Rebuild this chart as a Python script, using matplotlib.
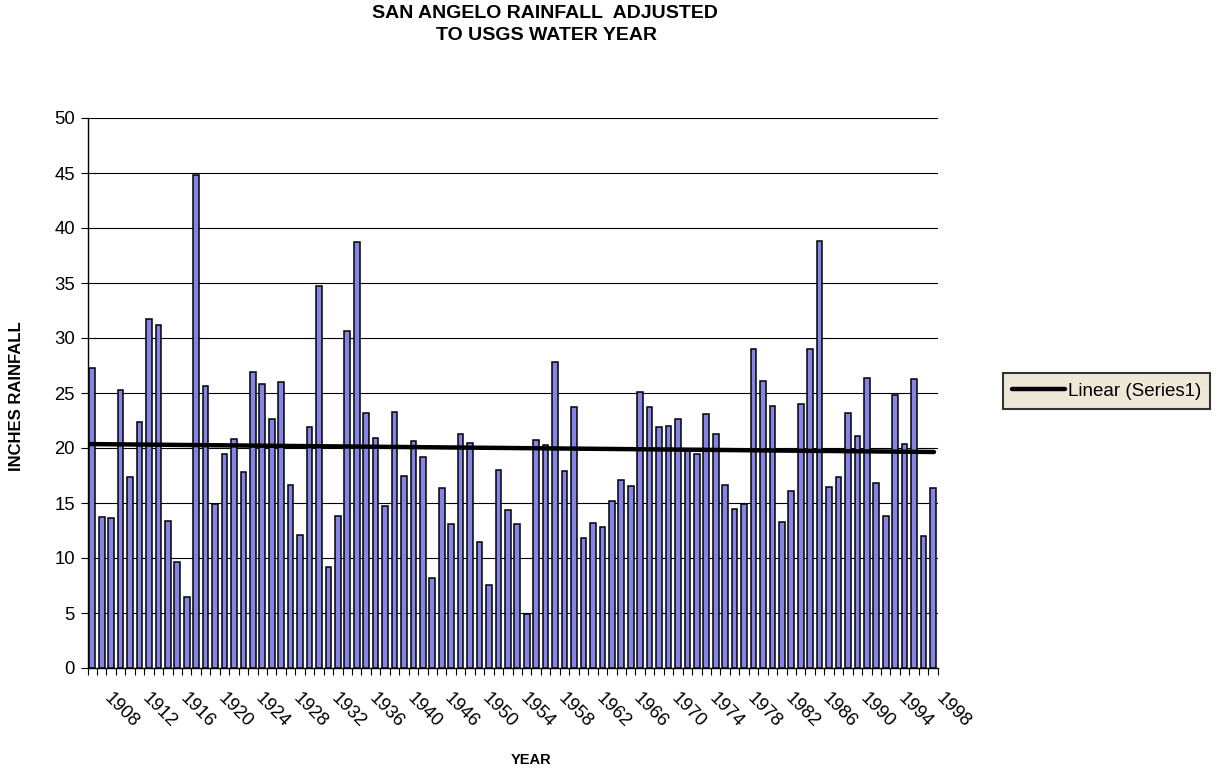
import numpy as np
import matplotlib
matplotlib.use("Agg")
import matplotlib.pyplot as plt
from matplotlib.transforms import ScaledTranslation

plt.rcParams['font.family'] = ['Liberation Sans', 'DejaVu Sans']

# ---- data ----
years = list(range(1907, 1941)) + list(range(1943, 1999))
rainfall = [27.3, 13.75, 13.6, 25.3, 17.4, 22.4, 31.7, 31.15, 13.4, 9.65,
            6.5, 44.8, 25.6, 14.9, 19.45, 20.8, 17.8, 26.95, 25.8, 22.65,
            26.0, 16.6, 12.05, 21.95, 34.7, 9.15, 13.8, 30.6, 38.7, 23.2,
            20.9, 14.75, 23.25, 17.5, 20.6, 19.2, 8.2, 16.35, 13.1, 21.3,
            20.45, 11.5, 7.55, 18.0, 14.35, 13.1, 4.95, 20.7, 20.3, 27.8,
            17.9, 23.7, 11.85, 13.15, 12.8, 15.2, 17.1, 16.55, 25.05, 23.7,
            21.87, 22.0, 22.6, 19.8, 19.45, 23.1, 21.3, 16.6, 14.45, 14.95,
            29.0, 26.05, 23.8, 13.25, 16.1, 24.0, 29.0, 38.8, 16.45, 17.35,
            23.2, 21.1, 26.4, 16.8, 13.85, 24.85, 20.4, 26.25, 12.0, 16.4]
label_every = 4
label_start = 1
yticks = [0, 5, 10, 15, 20, 25, 30, 35, 40, 45, 50]

title1 = "SAN ANGELO RAINFALL  ADJUSTED"
title2 = "TO USGS WATER YEAR"
ylabel = "INCHES RAINFALL"
xlabel = "YEAR"
legend_label = "Linear (Series1)"

# ---- figure ----
W, H = 1220, 772
fig = plt.figure(figsize=(W / 100, H / 100), dpi=100)
ax = fig.add_axes([87.5 / W, 1 - 668 / H, (937.7 - 87.5) / W, (668 - 118) / H])

x = np.arange(len(rainfall))
ax.bar(x, rainfall, width=0.6, color='#8585E6', edgecolor='black',
       linewidth=1.1, zorder=3)

# linear trend
coef = np.polyfit(x, rainfall, 1)
xt = np.array([-0.45, len(rainfall) - 1 + 0.1])
trend, = ax.plot(xt, np.polyval(coef, xt), color='black', lw=3.2,
                 solid_capstyle='round', zorder=4, label=legend_label)

ax.set_xlim(-0.5, len(rainfall) - 0.5)
ax.set_ylim(0, 50)
ax.set_yticks(yticks)
ax.yaxis.grid(True, color='black', linewidth=0.8, zorder=0)
ax.set_axisbelow(True)

for s in ['top', 'right']:
    ax.spines[s].set_visible(False)
for s in ['left', 'bottom']:
    ax.spines[s].set_color('black')
    ax.spines[s].set_linewidth(1.0)

ax.tick_params(axis='y', direction='out', length=5, width=0.8,
               labelsize=13.3, pad=4, colors='black')

# x ticks at category boundaries, labels every 4th category
ax.set_xticks(np.arange(-0.5, len(rainfall), 1.0), minor=True)
ax.tick_params(axis='x', which='minor', direction='out', length=5, width=0.8)
lab_idx = list(range(label_start, len(rainfall), label_every))
ax.set_xticks(lab_idx)
ax.set_xticklabels([str(years[i]) for i in lab_idx], rotation=-45,
                   ha='left', va='top', rotation_mode='anchor', fontsize=13.3)
ax.tick_params(axis='x', which='major', length=0, pad=16)
off = ScaledTranslation(0.115, 0, fig.dpi_scale_trans)
for lab in ax.get_xticklabels():
    lab.set_transform(lab.get_transform() + off)

# titles
fig.text(545 / W, 1 - 13.5 / H, title1, ha='center', va='center',
         fontsize=14, fontweight='bold')
fig.text(546 / W, 1 - 35 / H, title2, ha='center', va='center',
         fontsize=14, fontweight='bold')
fig.text(17 / W, 1 - 396 / H, ylabel, ha='center', va='center',
         rotation=90, fontsize=12, fontweight='bold')
fig.text(531 / W, 1 - 760 / H, xlabel, ha='center', va='center',
         fontsize=10.5, fontweight='bold')

leg = fig.legend(handles=[trend], loc='center left',
                 bbox_to_anchor=(1003 / W, 1 - 391 / H), fontsize=13.5,
                 frameon=True, fancybox=False, framealpha=1,
                 facecolor='#EFE8D8', edgecolor='#333333',
                 handlelength=2.8, handletextpad=0.15, borderpad=0.5,
                 borderaxespad=0)
leg.get_frame().set_linewidth(1.5)

fig.savefig('out.png', dpi=100)
